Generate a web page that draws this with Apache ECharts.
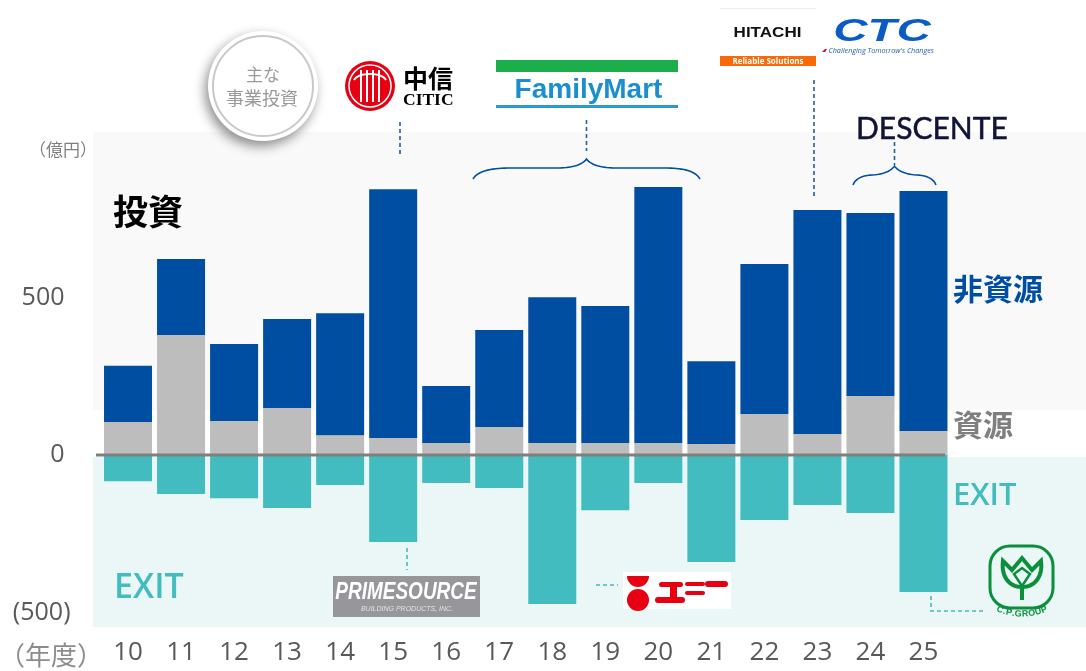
<!DOCTYPE html>
<html>
<head>
<meta charset="utf-8">
<script src="https://cdn.jsdelivr.net/npm/echarts@6/dist/echarts.min.js"></script>
<style>
  html, body { margin: 0; padding: 0; background: #fff; }
  #chart { width: 1086px; height: 671px; }
</style>
</head>
<body>
<div id="chart"></div>
<script>
// 億円
var years = ["10","11","12","13","14","15","16","17","18","19","20","21","22","23","24","25"];
var resource = [105,381,108,149,63,54,38,89,38,38,38,35,130,67,187,76];
var nonResource = [178,241,244,283,387,790,181,308,463,435,813,263,476,711,581,762];
var exits = [-83,-124,-137,-168,-95,-276,-89,-105,-473,-175,-89,-340,-206,-159,-184,-435];

var BLUE = "#004ea2", GREY = "#bdbdbd", TEAL = "#42bcbe", DASH = "#1f5fa8";
var SANS = '"Open Sans", "Noto Sans CJK JP", sans-serif';
var CJK = '"Noto Sans CJK JP", sans-serif';
var ARIAL = '"Liberation Sans", sans-serif';

var chart = echarts.init(document.getElementById("chart"));

function txt(x, y, text, size, color, extra) {
  var style = { x: x, y: y, text: text, fontSize: size, fill: color, fontFamily: SANS,
    textAlign: "left", textVerticalAlign: "middle" };
  for (var k in (extra || {})) style[k] = extra[k];
  return { type: "text", z: 20, style: style };
}
// logo wordmarks that are wider or taller than the font: stretched around their centre
function stretched(x, y, text, size, color, sx, sy, extra) {
  var el = txt(0, 0, text, size, color, extra);
  el.style.textAlign = "center";
  el.x = x; el.y = y; el.scaleX = sx; el.scaleY = sy;
  return el;
}
function box(x, y, w, h, color, z, r) {
  return { type: "rect", z: z === undefined ? 20 : z, shape: { x: x, y: y, width: w, height: h, r: r || 0 },
    style: { fill: color } };
}
function dashed(points, color) {
  return { type: "polyline", z: 20, shape: { points: points },
    style: { stroke: color, lineWidth: 1.6, lineDash: [4, 3], fill: null } };
}
// graphic has no path type, so curves go in as sampled polylines: [start, [c1, c2, end], [x, y], ...]
function curve(parts, color, width, closed) {
  var pts = [parts[0]];
  parts.slice(1).forEach(function (p) {
    if (typeof p[0] === "number") { pts.push(p); return; }
    var a = pts[pts.length - 1];
    for (var i = 1; i <= 16; i++) {
      var t = i / 16, u = 1 - t;
      pts.push([
        u*u*u*a[0] + 3*u*u*t*p[0][0] + 3*u*t*t*p[1][0] + t*t*t*p[2][0],
        u*u*u*a[1] + 3*u*u*t*p[0][1] + 3*u*t*t*p[1][1] + t*t*t*p[2][1]
      ]);
    }
  });
  return { type: closed ? "polygon" : "polyline", z: 20, shape: { points: pts },
    style: { stroke: color, fill: null, lineWidth: width } };
}

function decorations() {
  var zero = chart.convertToPixel({ yAxisIndex: 0 }, 0);
  var els = [];
  // background bands
  els.push(box(93, 132, 993, 278, "#f9f9f9", -5));
  els.push(box(93, zero + 2, 993, 170, "#ebf7f7", -5));
  // zero line
  els.push({ type: "line", z: 15, shape: { x1: 96, y1: zero, x2: 945, y2: zero },
    style: { stroke: "#7f7f7f", lineWidth: 3 } });

  // unit labels and section labels
  els.push(txt(29, 150, "（億円）", 17, "#7f7f7f", { fontFamily: CJK }));
  els.push(txt(-1, 655, "（年度）", 26, "#8c8c8c", { fontFamily: CJK }));
  els.push(txt(113, 212, "投資", 35, "#000", { fontFamily: CJK, fontWeight: "bold" }));
  els.push(txt(953, 289, "非資源", 30, BLUE, { fontFamily: CJK, fontWeight: "bold" }));
  els.push(txt(953, 425, "資源", 30, "#7f7f7f", { fontFamily: CJK, fontWeight: "bold" }));
  els.push(txt(953, 496, "EXIT", 31, TEAL, { fontWeight: 600 }));
  els.push(txt(114, 588, "EXIT", 34, TEAL, { fontWeight: 600 }));

  // round badge
  els.push({ type: "circle", z: 18, shape: { cx: 263, cy: 86, r: 55 },
    style: { fill: "#fff", shadowBlur: 12, shadowColor: "rgba(0,0,0,0.45)", shadowOffsetX: -3, shadowOffsetY: 5 } });
  els.push({ type: "circle", z: 19, shape: { cx: 263, cy: 86, r: 50 },
    style: { fill: "#fff", stroke: "#c8c8c8", lineWidth: 2 } });
  els.push(txt(263, 75, "主な", 17, "#999", { fontFamily: CJK, textAlign: "center" }));
  els.push(txt(262, 98, "事業投資", 18, "#999", { fontFamily: CJK, textAlign: "center" }));

  // CITIC
  els.push({ type: "circle", z: 20, shape: { cx: 370, cy: 86, r: 25 }, style: { fill: "#e60012" } });
  els.push({ type: "circle", z: 20, shape: { cx: 370, cy: 86, r: 21 }, style: { fill: null, stroke: "#fff", lineWidth: 1.5 } });
  [361, 367, 373, 379].forEach(function (x) { els.push(box(x - 1, 70, 2, 32, "#fff")); });
  els.push(curve([[354, 80], [[358, 72], [382, 72], [386, 80]]], "#fff", 2));
  els.push(txt(403, 78, "中信", 25, "#000", { fontFamily: CJK, fontWeight: "bold" }));
  els.push(txt(403, 100, "CITIC", 17.5, "#000", { fontFamily: '"Liberation Serif", serif', fontWeight: "bold" }));
  els.push(dashed([[400, 122], [400, 156]], DASH));

  // FamilyMart
  els.push(box(496, 60, 182, 12, "#1bae4b"));
  els.push(box(496, 105, 182, 3, "#2a9ad6"));
  els.push(txt(588.5, 90, "FamilyMart", 28, "#1a8fd0", { fontFamily: ARIAL, fontWeight: "bold", textAlign: "center" }));
  els.push(dashed([[586.5, 120], [586.5, 151]], DASH));
  els.push(curve([[473, 179], [[478, 170], [495, 168], [510, 168]], [555, 168], [[572, 168], [582, 165], [586.5, 159]],
    [[591, 165], [601, 168], [618, 168]], [665, 168], [[680, 168], [695, 170], [700, 179]]], BLUE, 1.6));

  // Hitachi and CTC
  els.push(box(720, 8, 96, 1, "#eeeeee"));
  els.push(stretched(767.5, 33, "HITACHI", 15.5, "#111", 1.1, 1, { fontFamily: ARIAL, fontWeight: "bold" }));
  els.push(box(720, 56, 96, 10, "#f96a06"));
  els.push(txt(768, 61.5, "Reliable Solutions", 8, "#fff", { fontWeight: "bold", textAlign: "center" }));
  els.push(stretched(882, 32, "CTC", 32, "#0a5bc4", 1.48, 1, { fontFamily: ARIAL, fontWeight: "bold", fontStyle: "italic" }));
  els.push({ type: "polygon", z: 20, shape: { points: [[822, 52], [825, 49], [827, 49], [825, 52]] }, style: { fill: "#e60012" } });
  els.push(txt(828.5, 51, "Challenging Tomorrow's Changes", 7.2, "#1f5fa8", { fontStyle: "italic" }));
  els.push(dashed([[814, 80], [814, 198]], DASH));

  // Descente
  els.push(txt(856, 129, "DESCENTE", 30, "#0f1438", { fontFamily: '"Lato", sans-serif', stroke: "#0f1438", lineWidth: 0.5 }));
  els.push(dashed([[894.5, 142], [894.5, 165]], DASH));
  els.push(curve([[853, 185], [[856, 177], [866, 175], [873, 175]], [[884, 174], [891, 171], [894.5, 166]],
    [[898, 171], [905, 174], [916, 175]], [[923, 175], [933, 177], [936, 185]]], BLUE, 1.6));

  // PrimeSource
  els.push(dashed([[407, 548], [407, 570]], TEAL));
  els.push(box(333, 576, 147, 41, "#97979b"));
  els.push(stretched(406, 592.5, "PRIMESOURCE", 19, "#fff", 1, 1.3, { fontFamily: ARIAL, fontWeight: "bold", fontStyle: "italic" }));
  els.push(txt(407, 609.5, "BUILDING PRODUCTS, INC.", 7, "#e4e4e4", { fontFamily: ARIAL, fontStyle: "italic", textAlign: "center" }));

  // Uny
  els.push(dashed([[596, 585], [618, 585]], TEAL));
  els.push(box(623, 572, 108, 37, "#fff"));
  els.push({ type: "sector", z: 21, shape: { cx: 638, cy: 576, r0: 0, r: 11, startAngle: 0, endAngle: Math.PI },
    style: { fill: "#e60012" } });
  els.push({ type: "circle", z: 21, shape: { cx: 638, cy: 600, r: 11 }, style: { fill: "#e60012" } });
  els.push(box(659, 582, 24, 5, "#e60012", 21, 2.5));
  els.push(box(670, 584, 7, 15, "#e60012", 21));
  els.push(box(655, 597, 30, 6, "#e60012", 21, 3));
  els.push(box(685, 582, 20, 4, "#e60012", 21, 2));
  els.push(box(685, 591, 20, 4, "#e60012", 21, 2));
  els.push(box(705, 581, 23, 6, "#e60012", 21, 3));

  // C.P. Group
  els.push(dashed([[931, 596], [931, 611], [986, 611]], TEAL));
  els.push({ type: "rect", z: 20, shape: { x: 990, y: 546, width: 63, height: 62, r: 20 },
    style: { fill: null, stroke: "#0a8f3c", lineWidth: 3 } });
  els.push(curve([[1022, 587], [[1008, 587], [1001, 575], [1003, 561]], [1012, 570], [1022, 558], [1032, 570], [1041, 561],
    [[1043, 575], [1036, 587], [1022, 587]]], "#0a8f3c", 4, true));
  els.push({ type: "polygon", z: 20, shape: { points: [[1022, 586], [1014, 574], [1022, 568], [1030, 574]] },
    style: { fill: null, stroke: "#0a8f3c", lineWidth: 2.5 } });
  els.push(box(1020, 586, 4, 14, "#0a8f3c"));
  // letters along the arc, spaced by their own widths
  var letters = "C.P.GROUP".split("");
  var widths = [6.5, 3, 6, 3, 7, 6.5, 7, 6.5, 6];
  var total = widths.reduce(function (s, w) { return s + w; }, 0);
  var along = -total / 2;
  letters.forEach(function (ch, i) {
    var a = (along + widths[i] / 2) / 60;
    along += widths[i];
    els.push({ type: "text", z: 20, x: 1022 + Math.sin(a) * 60, y: 554 + Math.cos(a) * 60, rotation: a,
      style: { x: 0, y: 0, text: ch, fontSize: 9, fontWeight: "bold", fill: "#0a8f3c",
        fontFamily: ARIAL, textAlign: "center", textVerticalAlign: "middle" } });
  });
  return els;
}

var option = {
  animation: false,
  backgroundColor: "#fff",
  grid: { left: 101.5, right: 136, top: 140, bottom: 58.5 },
  xAxis: {
    type: "category",
    data: years,
    position: "bottom",
    axisLine: { show: false, onZero: false },
    axisTick: { show: false },
    axisLabel: { margin: 27, fontSize: 26, color: "#595959", fontFamily: SANS, interval: 0 }
  },
  yAxis: {
    type: "value",
    min: -500,
    max: 1000,
    interval: 500,
    axisLine: { show: false },
    axisTick: { show: false },
    splitLine: { show: false },
    axisLabel: {
      margin: 31,
      color: "#595959",
      fontFamily: SANS,
      fontSize: 25,
      rich: {
        pos: { fontSize: 25, color: "#595959", fontFamily: SANS, padding: [0, 6, 0, 0] },
        neg: { fontSize: 25, color: "#595959", fontFamily: SANS }
      },
      formatter: function (v) {
        if (v === 1000) return "";
        return v < 0 ? "{neg|(" + (-v) + ")}" : "{pos|" + v + "}";
      }
    }
  },
  series: [
    { name: "資源", type: "bar", stack: "a", barWidth: 48, data: resource, itemStyle: { color: GREY } },
    { name: "非資源", type: "bar", stack: "a", barWidth: 48, data: nonResource, itemStyle: { color: BLUE } },
    { name: "EXIT", type: "bar", stack: "a", barWidth: 48, data: exits, itemStyle: { color: TEAL } }
  ]
};
chart.setOption(option);
chart.setOption({ graphic: { elements: decorations() } });
</script>
</body>
</html>
